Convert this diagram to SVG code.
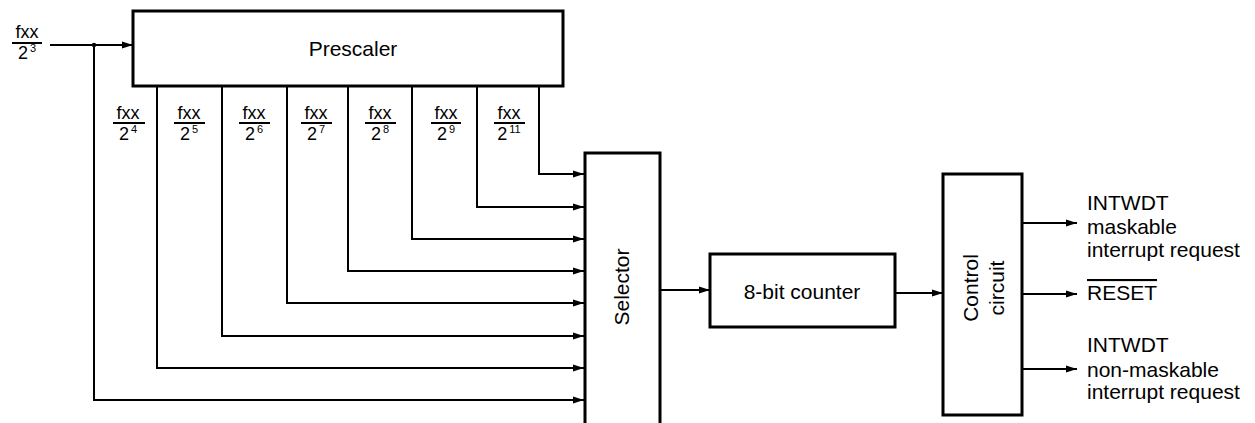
<svg xmlns="http://www.w3.org/2000/svg" width="1255" height="423" viewBox="0 0 1255 423">
<style>
.box{fill:#fff;stroke:#000;stroke-width:3}
.w{fill:none;stroke:#000;stroke-width:2}
.a{fill:none;stroke:#000;stroke-width:2;marker-end:url(#ah)}
text{font-family:"Liberation Sans",Arial,sans-serif;fill:#000}
.lbl{font-size:21px}
.fr{font-size:18px;text-anchor:middle}
.sup{font-size:11px}
.fl{stroke:#000;stroke-width:2}
</style>
<defs>
<marker id="ah" markerUnits="userSpaceOnUse" markerWidth="12" markerHeight="8" refX="11" refY="4" orient="auto">
<path d="M0,0.5 L11,4 L0,7.5 z" fill="#000"/>
</marker>
</defs>
<g id="connectors">
<path class="a" d="M50,45 H133"/>
<circle cx="94" cy="45" r="2.2" fill="#000"/>
<path class="a" d="M94,45 V400 H584"/>
<path class="a" d="M157,86 V368 H584"/>
<path class="a" d="M222,86 V336 H584"/>
<path class="a" d="M287,86 V303 H584"/>
<path class="a" d="M348,86 V271 H584"/>
<path class="a" d="M412,86 V239 H584"/>
<path class="a" d="M477,86 V207 H584"/>
<path class="a" d="M539,86 V174 H584"/>
<path class="a" d="M660,290 H710"/>
<path class="a" d="M895,293 H943"/>
<path class="a" d="M1022,223 H1077"/>
<path class="a" d="M1022,294 H1077"/>
<path class="a" d="M1022,369 H1077"/>
</g>
<g id="input-label">
<text class="fr" x="27" y="38">fxx</text>
<line class="fl" x1="12" y1="43" x2="42" y2="43"/>
<text class="fr" x="27" y="59">2<tspan class="sup" dx="2" dy="-7">3</tspan></text>
</g>
<g id="prescaler">
<rect class="box" x="133" y="11" width="430" height="75"/>
<text class="lbl" x="353" y="56" text-anchor="middle">Prescaler</text>
</g>
<g id="tap-labels">
<text class="fr" x="128" y="119">fxx</text><line class="fl" x1="113" y1="123" x2="145" y2="123"/><text class="fr" x="128" y="140">2<tspan class="sup" dx="2" dy="-7">4</tspan></text>
<text class="fr" x="189" y="119">fxx</text><line class="fl" x1="174" y1="123" x2="205" y2="123"/><text class="fr" x="189" y="140">2<tspan class="sup" dx="2" dy="-7">5</tspan></text>
<text class="fr" x="254" y="119">fxx</text><line class="fl" x1="239" y1="123" x2="270" y2="123"/><text class="fr" x="254" y="140">2<tspan class="sup" dx="2" dy="-7">6</tspan></text>
<text class="fr" x="316" y="119">fxx</text><line class="fl" x1="301" y1="123" x2="332" y2="123"/><text class="fr" x="316" y="140">2<tspan class="sup" dx="2" dy="-7">7</tspan></text>
<text class="fr" x="380" y="119">fxx</text><line class="fl" x1="365" y1="123" x2="396" y2="123"/><text class="fr" x="380" y="140">2<tspan class="sup" dx="2" dy="-7">8</tspan></text>
<text class="fr" x="446" y="119">fxx</text><line class="fl" x1="431" y1="123" x2="461" y2="123"/><text class="fr" x="446" y="140">2<tspan class="sup" dx="2" dy="-7">9</tspan></text>
<text class="fr" x="509" y="119">fxx</text><line class="fl" x1="494" y1="123" x2="525" y2="123"/><text class="fr" x="509" y="140">2<tspan class="sup" dx="2" dy="-7">11</tspan></text>
</g>
<g id="selector">
<rect class="box" x="585" y="153" width="75" height="280"/>
<text class="lbl" transform="translate(629,287) rotate(-90)" text-anchor="middle">Selector</text>
</g>
<g id="counter">
<rect class="box" x="710" y="254" width="185" height="73"/>
<text class="lbl" x="802" y="299" text-anchor="middle">8-bit counter</text>
</g>
<g id="control">
<rect class="box" x="943" y="174" width="79" height="241"/>
<text class="lbl" transform="translate(978,288) rotate(-90)" text-anchor="middle">Control</text>
<text class="lbl" transform="translate(1004,288) rotate(-90)" text-anchor="middle">circuit</text>
</g>
<g id="outputs">
<text class="lbl" x="1087" y="210">INTWDT</text>
<text class="lbl" x="1087" y="234">maskable</text>
<text class="lbl" x="1087" y="257">interrupt request</text>
<text class="lbl" x="1087" y="300" text-decoration="overline">RESET</text>
<text class="lbl" x="1087" y="352">INTWDT</text>
<text class="lbl" x="1087" y="377">non-maskable</text>
<text class="lbl" x="1087" y="399">interrupt request</text>
</g>
</svg>
